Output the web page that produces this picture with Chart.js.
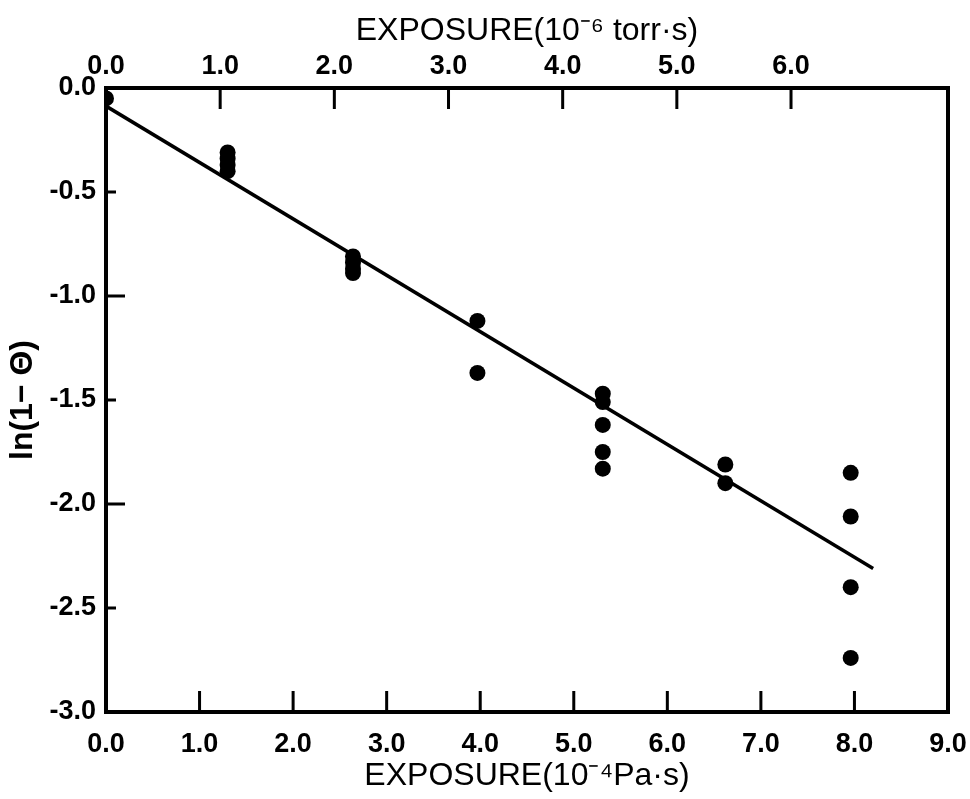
<!DOCTYPE html>
<html>
<head>
<meta charset="utf-8">
<script src="https://cdn.jsdelivr.net/npm/chart.js@4.4.0/dist/chart.umd.min.js"></script>
<style>
  html, body { margin: 0; padding: 0; background: #fff; }
</style>
</head>
<body>
<canvas id="exposureChart" width="970" height="799"></canvas>
<script>
// Ekspozycja (10^-4 Pa·s) i ln(1-Θ)
var exposurePa = [0.0, 1.30, 1.30, 1.30, 1.30, 2.64, 2.64, 2.64, 2.64, 3.97, 3.97,
  5.31, 5.31, 5.31, 5.31, 5.31, 6.62, 6.62, 7.96, 7.96, 7.96, 7.96];
var lnTheta = [-0.05, -0.31, -0.34, -0.37, -0.40, -0.81, -0.84, -0.87, -0.89, -1.12, -1.37,
  -1.47, -1.51, -1.62, -1.75, -1.83, -1.81, -1.90, -1.85, -2.06, -2.40, -2.74];

// Prosta dopasowania (końce)
var fitX = [0.0, 8.2];
var fitY = [-0.087, -2.31];

// Podziałki osi
var bottomTicks = [0, 1, 2, 3, 4, 5, 6, 7, 8, 9];
var topTicks = [0, 1, 2, 3, 4, 5, 6];
var yTicks = [0, -0.5, -1, -1.5, -2, -2.5, -3];
var topMax = 7.375; // 10^-6 torr·s na prawej krawędzi ramki

var fontFamily = '"Liberation Sans", Arial, sans-serif';

// Ramka i krótkie kreski podziałki skierowane do środka
var frameAndTicks = {
  id: 'frameAndTicks',
  afterDatasetsDraw: function (chart) {
    var ctx = chart.ctx;
    var a = chart.chartArea;
    var sx = chart.scales.x, sx2 = chart.scales.x2, sy = chart.scales.y;
    ctx.save();
    ctx.strokeStyle = '#000';
    ctx.lineWidth = 3;
    ctx.beginPath();
    bottomTicks.forEach(function (v) {
      if (v > 0 && v < 9) {
        var px = sx.getPixelForValue(v);
        ctx.moveTo(px, a.bottom);
        ctx.lineTo(px, a.bottom - 21);
      }
    });
    topTicks.forEach(function (v) {
      if (v > 0) {
        var px = sx2.getPixelForValue(v);
        ctx.moveTo(px, a.top);
        ctx.lineTo(px, a.top + 21);
      }
    });
    yTicks.forEach(function (v) {
      if (v < 0 && v > -3) {
        var py = sy.getPixelForValue(v);
        var len = Number.isInteger(v) ? 19 : 10;
        ctx.moveTo(a.left, py);
        ctx.lineTo(a.left + len, py);
      }
    });
    ctx.stroke();
    ctx.lineWidth = 4;
    ctx.strokeRect(a.left, a.top, a.right - a.left, a.bottom - a.top);
    ctx.restore();
  }
};

var points = exposurePa.map(function (x, i) { return { x: x, y: lnTheta[i] }; });
var fitLine = fitX.map(function (x, i) { return { x: x, y: fitY[i] }; });

var tickFont = { family: fontFamily, size: 27, weight: 'bold' };

// stała wysokość osi poziomej, bez dodatkowego marginesu na etykiety
function fixHeight(h) {
  return function (s) {
    s.height = h;
    s.paddingLeft = 0;
    s.paddingRight = 0;
  };
}

new Chart(document.getElementById('exposureChart').getContext('2d'), {
  type: 'scatter',
  data: {
    datasets: [{
      data: points,
      backgroundColor: '#000',
      borderWidth: 0,
      pointRadius: 8,
      clip: 0
    }, {
      type: 'line',
      data: fitLine,
      borderColor: '#000',
      borderWidth: 3.5,
      pointRadius: 0,
      fill: false
    }]
  },
  options: {
    responsive: false,
    animation: false,
    layout: { padding: { right: 22 } },
    plugins: { legend: { display: false }, tooltip: { enabled: false } },
    scales: {
      x: {
        type: 'linear', position: 'bottom', min: 0, max: 9,
        afterBuildTicks: function (s) { s.ticks = bottomTicks.map(function (v) { return { value: v }; }); },
        afterFit: fixHeight(87),
        grid: { display: false },
        border: { display: false },
        ticks: {
          color: '#000', font: tickFont, padding: 8, maxRotation: 0, autoSkip: false,
          callback: function (v) { return v.toFixed(1); }
        },
        title: {
          display: true, text: 'EXPOSURE(10⁻⁴Pa·s)', color: '#000',
          font: { family: fontFamily, size: 32 }, padding: { top: 0, bottom: 4 }
        }
      },
      x2: {
        type: 'linear', position: 'top', min: 0, max: topMax,
        afterBuildTicks: function (s) { s.ticks = topTicks.map(function (v) { return { value: v }; }); },
        afterFit: fixHeight(88),
        grid: { display: false },
        border: { display: false },
        ticks: {
          color: '#000', font: tickFont, padding: -3, maxRotation: 0, autoSkip: false,
          callback: function (v) { return v.toFixed(1); }
        },
        title: {
          display: true, text: 'EXPOSURE(10⁻⁶ torr·s)', color: '#000',
          font: { family: fontFamily, size: 32 }, padding: { top: 12, bottom: 0 }
        }
      },
      y: {
        type: 'linear', min: -3, max: 0,
        afterBuildTicks: function (s) { s.ticks = yTicks.map(function (v) { return { value: v }; }); },
        afterFit: function (s) { s.width = 106; },
        grid: { display: false },
        border: { display: false },
        ticks: {
          color: '#000', font: tickFont, padding: 2,
          callback: function (v) { return v.toFixed(1); }
        },
        title: {
          display: true, text: 'ln(1− Θ)', color: '#000',
          font: { family: fontFamily, size: 32, weight: 'bold' }, padding: { top: 4, bottom: 0 }
        }
      }
    }
  },
  plugins: [frameAndTicks]
});
</script>
</body>
</html>
